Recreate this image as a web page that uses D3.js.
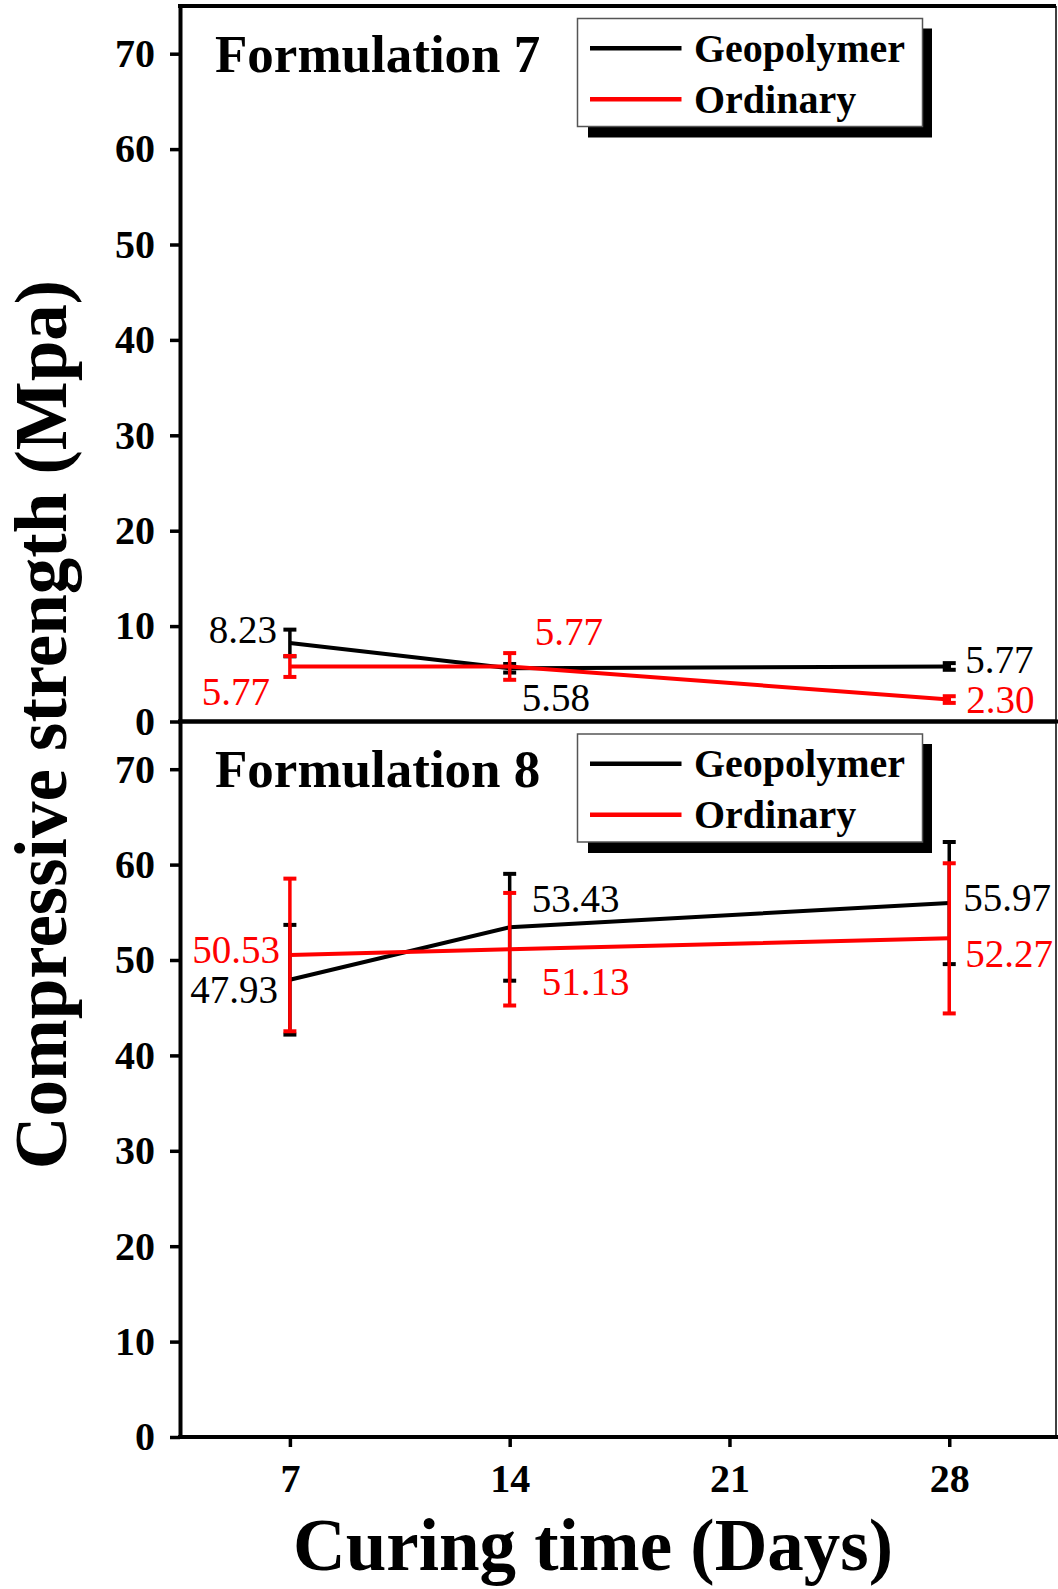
<!DOCTYPE html>
<html>
<head>
<meta charset="utf-8">
<script src="https://cdn.jsdelivr.net/npm/d3@7"></script>
<style>
  html, body { margin: 0; padding: 0; background: #fff; }
  svg { display: block; }
  text { font-family: "Liberation Serif", "Times New Roman", serif; }
</style>
</head>
<body>
<svg id="chart" width="1058" height="1589"></svg>
<script>
// ---- data ----
const days = [7, 14, 28];
const xTicks = [7, 14, 21, 28];
const yTicks = [0, 10, 20, 30, 40, 50, 60, 70];
const seriesNames = ["Geopolymer", "Ordinary"];
const seriesColors = ["#000000", "#ff0000"];
const panelTitles = ["Formulation 7", "Formulation 8"];

// Formulation 7
const f7Geopolymer = [8.23, 5.58, 5.77];
const f7GeopolymerErr = [1.4, 0.45, 0.35];
const f7Ordinary = [5.77, 5.77, 2.30];
const f7OrdinaryErr = [1.1, 1.4, 0.35];

// Formulation 8
const f8Geopolymer = [47.93, 53.43, 55.97];
const f8GeopolymerErr = [5.75, 5.6, 6.4];
const f8Ordinary = [50.53, 51.13, 52.27];
const f8OrdinaryErr = [8.0, 5.9, 7.87];

// ---- layout ----
const W = 1058;
const left = 180, right = 1056;
const panelTops = [6, 721.5];
const panelH = 715.5;
const yMax = 75;

const svg = d3.select("#chart");

const x = d3.scaleLinear().domain([3.5, 31.4]).range([left, right]);

// per-label placement offsets (dx, dy, anchor) for each panel / series / day
const labelPlacement = [
  [ // Formulation 7
    [[-13, 0, "end"], [12, 43, "start"], [16, 7, "start"]],
    [[-20, 38.5, "end"], [25, -21.5, "start"], [17, 13, "start"]]
  ],
  [ // Formulation 8
    [[-12, 23, "end"], [22, -15.6, "start"], [14, 7.6, "start"]],
    [[-10, 8.3, "end"], [32, 45.7, "start"], [16, 28.3, "start"]]
  ]
];

const panels = [
  { title: panelTitles[0], series: [
      { values: f7Geopolymer, err: f7GeopolymerErr },
      { values: f7Ordinary, err: f7OrdinaryErr } ] },
  { title: panelTitles[1], series: [
      { values: f8Geopolymer, err: f8GeopolymerErr },
      { values: f8Ordinary, err: f8OrdinaryErr } ] }
];

panels.forEach((p, pi) => {
  const top = panelTops[pi];
  const bottom = top + panelH;
  const y = d3.scaleLinear().domain([0, yMax]).range([bottom, top]);
  const g = svg.append("g");

  // left axis
  const yAxis = d3.axisLeft(y).tickValues(yTicks).tickSize(10).tickSizeOuter(0).tickPadding(15);
  const ya = g.append("g").attr("transform", `translate(${left},0)`).call(yAxis);
  ya.select(".domain").attr("stroke", "#000").attr("stroke-width", 4);
  ya.selectAll(".tick line").attr("stroke", "#000").attr("stroke-width", 3.5);
  ya.selectAll(".tick text")
    .attr("fill", "#000")
    .style("font-family", "'Liberation Serif', serif")
    .style("font-weight", "bold")
    .style("font-size", "40px");

  // top frame line
  g.append("line")
    .attr("x1", left - 2).attr("x2", right)
    .attr("y1", top).attr("y2", top)
    .attr("stroke", "#000").attr("stroke-width", 4);
  // right frame line
  g.append("line")
    .attr("x1", right).attr("x2", right)
    .attr("y1", top).attr("y2", bottom)
    .attr("stroke", "#000").attr("stroke-width", 1.5);

  // bottom axis line of the panel
  g.append("line")
    .attr("x1", left - 2).attr("x2", W)
    .attr("y1", bottom).attr("y2", bottom)
    .attr("stroke", "#000").attr("stroke-width", 4);

  // panel title
  g.append("text")
    .attr("x", 215).attr("y", top + 65.6)
    .style("font-weight", "bold").style("font-size", "53px")
    .text(p.title);

  // series: error bars, lines, value labels
  p.series.forEach((s, si) => {
    const color = seriesColors[si];
    const pts = days.map((d, i) => ({ d, v: s.values[i], e: s.err[i], i }));
    const sg = g.append("g");

    const line = d3.line().x(d => x(d.d)).y(d => y(d.v));
    sg.append("path").datum(pts)
      .attr("d", line).attr("fill", "none")
      .attr("stroke", color).attr("stroke-width", 4);

    const eb = sg.selectAll(".err").data(pts).enter().append("g");
    eb.append("line")
      .attr("x1", d => x(d.d)).attr("x2", d => x(d.d))
      .attr("y1", d => y(d.v + d.e)).attr("y2", d => y(d.v - d.e))
      .attr("stroke", color).attr("stroke-width", 3.5);
    [1, -1].forEach(sign => {
      eb.append("line")
        .attr("x1", d => x(d.d) - 6.5).attr("x2", d => x(d.d) + 6.5)
        .attr("y1", d => y(d.v + sign * d.e)).attr("y2", d => y(d.v + sign * d.e))
        .attr("stroke", color).attr("stroke-width", 4);
    });

    sg.selectAll(".lbl").data(pts).enter().append("text")
      .attr("x", d => x(d.d) + labelPlacement[pi][si][d.i][0])
      .attr("y", d => y(d.v) + labelPlacement[pi][si][d.i][1])
      .attr("text-anchor", d => labelPlacement[pi][si][d.i][2])
      .attr("fill", color)
      .style("font-size", "39px")
      .text(d => d.v.toFixed(2));
  });

  // legend with drop shadow
  const lg = g.append("g").attr("transform", `translate(0,${top})`);
  lg.append("rect")
    .attr("x", 588).attr("y", 22.5)
    .attr("width", 344).attr("height", 109)
    .attr("fill", "#000");
  lg.append("rect")
    .attr("x", 577.5).attr("y", 12.5)
    .attr("width", 345).attr("height", 108)
    .attr("fill", "#fff").attr("stroke", "#555").attr("stroke-width", 1.5);
  seriesNames.forEach((name, i) => {
    const ly = 42.3 + i * 51;
    lg.append("line")
      .attr("x1", 590).attr("x2", 681.5)
      .attr("y1", ly).attr("y2", ly)
      .attr("stroke", seriesColors[i]).attr("stroke-width", 4.5);
    lg.append("text")
      .attr("x", 694).attr("y", ly + 13.4)
      .style("font-weight", "bold").style("font-size", "40px")
      .text(name);
  });

  // x axis with day ticks on the lower panel
  if (pi === panels.length - 1) {
    const xAxis = d3.axisBottom(x).tickValues(xTicks).tickSize(10).tickSizeOuter(0);
    const xa = g.append("g").attr("transform", `translate(0,${bottom})`).call(xAxis);
    xa.select(".domain").remove();
    xa.selectAll(".tick line").attr("stroke", "#000").attr("stroke-width", 3.5);
    xa.selectAll(".tick text")
      .attr("fill", "#000")
      .attr("y", 55).attr("dy", 0)
      .style("font-family", "'Liberation Serif', serif")
      .style("font-weight", "bold")
      .style("font-size", "40px");
  }
});

// axis titles
svg.append("text")
  .attr("transform", "translate(66,724.6) rotate(-90)")
  .attr("text-anchor", "middle")
  .style("font-weight", "bold").style("font-size", "73px")
  .text("Compressive strength (Mpa)");

svg.append("text")
  .attr("x", 593).attr("y", 1570)
  .attr("text-anchor", "middle")
  .style("font-weight", "bold").style("font-size", "73px")
  .text("Curing time (Days)");
</script>
</body>
</html>
